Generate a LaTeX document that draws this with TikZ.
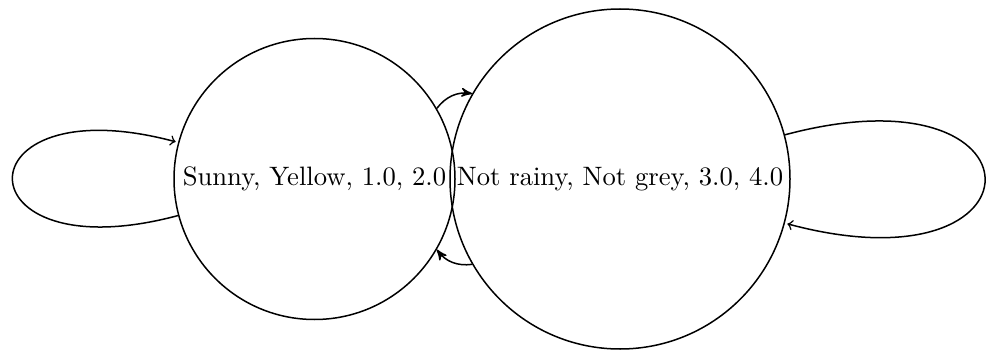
\documentclass[tikz,border=0pt]{standalone}
\usetikzlibrary{arrows}
\begin{document}
\begin{tikzpicture}[
  state/.style={draw, circle, inner sep=0pt, semithick, font=\fontsize{10.65}{13}\selectfont},
  conn/.style={-stealth', semithick}
]
\useasboundingbox (0,0) rectangle (396.4pt,139.6pt);
\node[state, minimum size=112.4pt] (s) at (125.8pt,68pt) {Sunny, Yellow, 1.0, 2.0};
\node[state, minimum size=136pt] (n) at (248pt,68pt) {Not rainy, Not grey, 3.0, 4.0};
\draw[conn] (s) edge[loop left] (s);
\draw[conn] (n) edge[loop right] (n);
\draw[conn] (s) edge[bend left] (n);
\draw[conn] (n) edge[bend left] (s);
\end{tikzpicture}
\end{document}
